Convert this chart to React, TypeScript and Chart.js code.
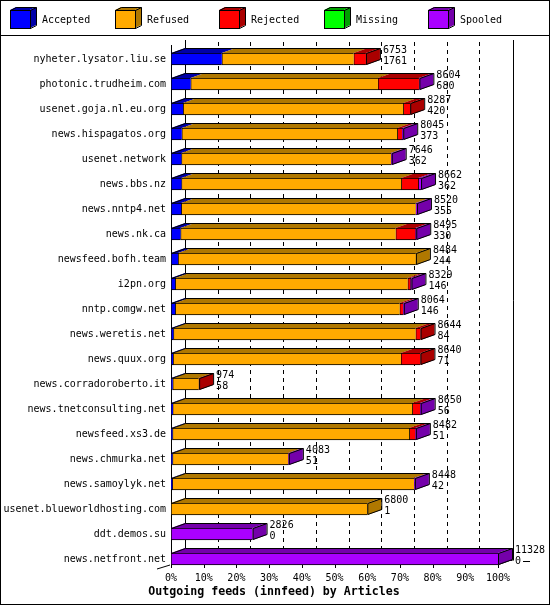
import { useEffect, useRef } from 'react';
import { Chart, registerables } from 'chart.js';

Chart.register(...registerables);

const feeds = [
  'nyheter.lysator.liu.se',
  'photonic.trudheim.com',
  'usenet.goja.nl.eu.org',
  'news.hispagatos.org',
  'usenet.network',
  'news.bbs.nz',
  'news.nntp4.net',
  'news.nk.ca',
  'newsfeed.bofh.team',
  'i2pn.org',
  'nntp.comgw.net',
  'news.weretis.net',
  'news.quux.org',
  'news.corradoroberto.it',
  'news.tnetconsulting.net',
  'newsfeed.xs3.de',
  'news.chmurka.net',
  'news.samoylyk.net',
  'usenet.blueworldhosting.com',
  'ddt.demos.su',
  'news.netfront.net',
];

const offered = [6753, 8604, 8287, 8045, 7646, 8662, 8520, 8495, 8484, 8329, 8064, 8644, 8640, 974, 8650, 8482, 4083, 8448, 6800, 2826, 11328];
const accepted = [1761, 680, 420, 373, 362, 362, 355, 330, 244, 146, 146, 84, 71, 58, 56, 51, 51, 42, 1, 0, 0];
const refused = [4568, 6490, 7628, 7467, 7259, 7617, 8120, 7453, 8240, 8053, 7775, 8391, 7896, 900, 8304, 8205, 4012, 8376, 6799, 0, 0];
const rejected = [424, 1420, 239, 162, 0, 588, 0, 681, 0, 91, 115, 169, 673, 16, 266, 208, 0, 0, 0, 0, 0];
const missing = [0, 0, 0, 0, 0, 0, 0, 0, 0, 0, 0, 0, 0, 0, 0, 0, 0, 0, 0, 0, 0];
const spooled = [0, 14, 0, 43, 25, 95, 45, 31, 0, 39, 28, 0, 0, 0, 24, 18, 20, 30, 0, 2826, 11328];

const seriesNames = ['Accepted', 'Refused', 'Rejected', 'Missing', 'Spooled'];
const seriesValues = [accepted, refused, rejected, missing, spooled];
const xTickLabels = ['0%', '10%', '20%', '30%', '40%', '50%', '60%', '70%', '80%', '90%', '100%'];
const chartTitle = 'Outgoing feeds (innfeed) by Articles';

const COLORS = ['#0000ff', '#ffaa00', '#ff0000', '#00ff00', '#aa00ff'];
const DARK = ['#0000a8', '#b07800', '#aa0000', '#00a000', '#7400aa'];
const DX = 14;
const DY = 5;
const FONT = '10px "DejaVu Sans Mono"';

const maxTotal = Math.max(...offered);

function poly(ctx: CanvasRenderingContext2D, pts: number[][]) {
  ctx.beginPath();
  ctx.moveTo(pts[0][0], pts[0][1]);
  for (let i = 1; i < pts.length; i++) ctx.lineTo(pts[i][0], pts[i][1]);
  ctx.closePath();
}

const threeD = {
  id: 'threeD',
  beforeDraw(chart: any) {
    const { ctx, width, height } = chart;
    ctx.save();
    ctx.fillStyle = '#fff';
    ctx.fillRect(0, 0, width, height);
    ctx.strokeStyle = '#000';
    ctx.lineWidth = 1;
    ctx.strokeRect(0.5, 0.5, width - 1, height - 1);
    ctx.beginPath();
    ctx.moveTo(0, 35.5);
    ctx.lineTo(width, 35.5);
    ctx.stroke();
    // legend cubes
    chart.data.datasets.forEach((ds: any, i: number) => {
      const bx = Math.round(10 + i * 104.5);
      ctx.fillStyle = COLORS[i];
      ctx.fillRect(bx, 10, 20, 18);
      ctx.fillStyle = DARK[i];
      poly(ctx, [[bx + 20, 10], [bx + 26, 7], [bx + 26, 25], [bx + 20, 28]]);
      ctx.fill();
      poly(ctx, [[bx, 10], [bx + 6, 7], [bx + 26, 7], [bx + 20, 10]]);
      ctx.fill();
      ctx.strokeStyle = '#000';
      ctx.strokeRect(bx + 0.5, 10.5, 20, 18);
      ctx.beginPath();
      ctx.moveTo(bx + 0.5, 10.5);
      ctx.lineTo(bx + 6.5, 7.5);
      ctx.lineTo(bx + 26.5, 7.5);
      ctx.lineTo(bx + 26.5, 25.5);
      ctx.lineTo(bx + 20.5, 28.5);
      ctx.moveTo(bx + 26.5, 7.5);
      ctx.lineTo(bx + 20.5, 10.5);
      ctx.stroke();
      ctx.fillStyle = '#000';
      ctx.font = FONT;
      ctx.textAlign = 'left';
      ctx.textBaseline = 'middle';
      ctx.fillText(ds.label, bx + 32, 20);
    });
    ctx.restore();
  },
  beforeDatasetsDraw(chart: any) {
    const { ctx, chartArea, scales } = chart;
    const x = scales.x;
    const y = scales.y;
    const n = chart.data.labels.length;
    const left = Math.round(chartArea.left);
    const right = Math.round(x.getPixelForValue(100));
    const frontTop = Math.round(chartArea.top) - 2;
    const frontBottom = Math.round(y.getPixelForValue(n - 1)) + 6;
    const backTop = frontTop - DY;
    const backBottom = frontBottom - DY;
    ctx.save();
    ctx.strokeStyle = '#000';
    ctx.lineWidth = 1;
    // dashed back gridlines
    ctx.setLineDash([4, 4]);
    ctx.lineDashOffset = 6;
    x.ticks.forEach((t: any) => {
      if (t.value <= 0 || t.value >= 100) return;
      const px = Math.round(x.getPixelForValue(t.value)) + DX + 0.5;
      ctx.beginPath();
      ctx.moveTo(px, backTop);
      ctx.lineTo(px, backBottom);
      ctx.stroke();
    });
    ctx.setLineDash([]);
    ctx.beginPath();
    // back walls
    ctx.moveTo(left + DX + 0.5, backTop);
    ctx.lineTo(left + DX + 0.5, backBottom + 0.5);
    ctx.lineTo(right + DX + 0.5, backBottom + 0.5);
    ctx.moveTo(right + DX + 1.5, backTop);
    ctx.lineTo(right + DX + 1.5, backBottom + 0.5);
    // floor edges
    ctx.moveTo(left + 0.5, frontBottom - 0.5);
    ctx.lineTo(left + DX + 0.5, backBottom - 0.5);
    ctx.moveTo(right + 0.5, frontBottom - 0.5);
    ctx.lineTo(right + DX + 0.5, backBottom - 0.5);
    // front axes
    ctx.moveTo(left + 0.5, frontTop);
    ctx.lineTo(left + 0.5, frontBottom);
    ctx.moveTo(left, frontBottom - 0.5);
    ctx.lineTo(right + 1, frontBottom - 0.5);
    // tick marks
    x.ticks.forEach((t: any) => {
      const px = Math.round(x.getPixelForValue(t.value)) + 0.5;
      ctx.moveTo(px, frontBottom);
      ctx.lineTo(px, frontBottom + 3);
    });
    // small diagonal at the lower left
    ctx.moveTo(left - 14, frontBottom + 4);
    ctx.lineTo(left - 1, frontBottom);
    ctx.stroke();
    ctx.restore();
  },
  afterDatasetsDraw(chart: any) {
    const { ctx } = chart;
    const datasets = chart.data.datasets;
    const metas = datasets.map((_: any, i: number) => chart.getDatasetMeta(i));
    const n = chart.data.labels.length;
    ctx.save();
    ctx.lineWidth = 1;
    for (let j = 0; j < n; j++) {
      let first = -1;
      let last = -1;
      for (let i = 0; i < datasets.length; i++) {
        if (datasets[i].data[j] > 0) {
          if (first < 0) first = i;
          last = i;
        }
      }
      if (last < 0) continue;
      const eF = metas[first].data[j].getProps(['x', 'y', 'base', 'height'], true);
      const eL = metas[last].data[j].getProps(['x', 'y', 'base', 'height'], true);
      const top = eL.y - eL.height / 2;
      const bot = eL.y + eL.height / 2;
      const x0 = eF.base;
      const x1 = eL.x;
      for (let i = first; i <= last; i++) {
        if (!(datasets[i].data[j] > 0)) continue;
        const e = metas[i].data[j].getProps(['x', 'base'], true);
        ctx.fillStyle = DARK[i];
        poly(ctx, [[e.base, top], [e.x, top], [e.x + DX, top - DY], [e.base + DX, top - DY]]);
        ctx.fill();
      }
      ctx.fillStyle = DARK[last];
      poly(ctx, [[x1, top], [x1 + DX, top - DY], [x1 + DX, bot - DY], [x1, bot]]);
      ctx.fill();
      ctx.strokeStyle = '#000';
      ctx.beginPath();
      ctx.moveTo(x0 + 0.5, top + 0.5);
      ctx.lineTo(x0 + DX + 0.5, top - DY + 0.5);
      ctx.lineTo(x1 + DX + 0.5, top - DY + 0.5);
      ctx.lineTo(x1 + DX + 0.5, bot - DY - 0.5);
      ctx.lineTo(x1 + 0.5, bot - 0.5);
      ctx.lineTo(x1 + 0.5, top + 0.5);
      ctx.lineTo(x1 + DX + 0.5, top - DY + 0.5);
      ctx.stroke();
      // value labels
      ctx.fillStyle = '#000';
      ctx.font = FONT;
      ctx.textAlign = 'left';
      ctx.textBaseline = 'middle';
      const tx = x1 + DX + 3;
      ctx.fillText(String(offered[j]), tx, eL.y - 9);
      ctx.fillText(String(accepted[j]), tx, eL.y + 2);
      if (j === n - 1) {
        const w = ctx.measureText(String(accepted[j])).width;
        ctx.beginPath();
        ctx.moveTo(tx + w + 2, eL.y + 2.5);
        ctx.lineTo(tx + w + 9, eL.y + 2.5);
        ctx.stroke();
      }
    }
    ctx.restore();
  },
  afterDraw(chart: any) {
    const { ctx, width } = chart;
    ctx.save();
    ctx.fillStyle = '#000';
    ctx.font = 'bold 11.6px "DejaVu Sans Mono"';
    ctx.textAlign = 'center';
    ctx.textBaseline = 'middle';
    ctx.fillText(chartTitle, width / 2 - 1, 592);
    ctx.restore();
  },
};

export default function App() {
  const ref = useRef<HTMLCanvasElement | null>(null);
  useEffect(() => {
    if (!ref.current) return;
    const chart = new Chart(ref.current, {
      type: 'bar',
      data: {
        labels: feeds,
        datasets: seriesNames.map((name, i) => ({
          label: name,
          data: seriesValues[i].map((v) => (v / maxTotal) * 100),
          backgroundColor: COLORS[i],
          borderColor: '#000',
          borderWidth: { top: 1, bottom: 1, left: 1, right: 0 },
          borderSkipped: false,
          barThickness: 12,
        })),
      },
      options: {
        indexAxis: 'y',
        responsive: false,
        animation: false,
        devicePixelRatio: 1,
        layout: { padding: { left: 0, right: 52, top: 46.5, bottom: 0 } },
        plugins: {
          legend: { display: false },
          tooltip: { enabled: false },
          title: { display: false },
        },
        scales: {
          x: {
            type: 'linear',
            stacked: true,
            min: 0,
            max: 100,
            grid: { display: false, drawTicks: false },
            border: { display: false },
            ticks: {
              stepSize: 10,
              padding: 1,
              color: '#000',
              font: { family: 'DejaVu Sans Mono', size: 10 },
              maxRotation: 0,
              autoSkip: false,
              callback: (_v: any, i: number) => xTickLabels[i],
            },
            afterFit: (s: any) => {
              s.height = 33.5;
            },
          },
          y: {
            stacked: true,
            grid: { display: false, drawTicks: false },
            border: { display: false },
            ticks: {
              padding: 5,
              color: '#000',
              autoSkip: false,
              font: { family: 'DejaVu Sans Mono', size: 10 },
            },
            afterFit: (s: any) => {
              s.width = 171;
            },
          },
        },
      },
      plugins: [threeD],
    } as any);
    return () => chart.destroy();
  }, []);
  return (
    <div style={{ position: 'absolute', left: 0, top: 0, width: 550, height: 605 }}>
      <canvas ref={ref} width={550} height={605} style={{ display: 'block' }} />
    </div>
  );
}
